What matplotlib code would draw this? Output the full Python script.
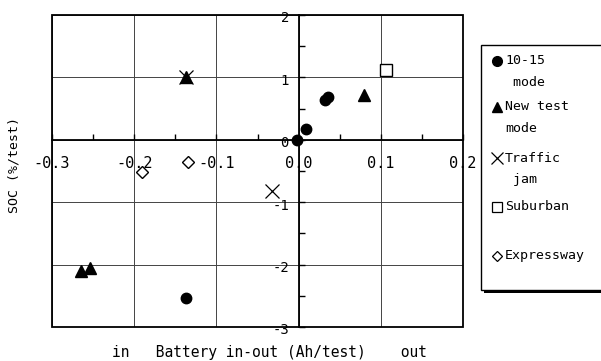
import numpy as np
import matplotlib.pyplot as plt
import matplotlib.transforms as mtransforms
from matplotlib.patches import Rectangle

plt.rcParams['font.family'] = ['DejaVu Sans Mono', 'DejaVu Sans']
plt.rcParams['axes.unicode_minus'] = False

# battery in-out (Ah/test) vs SOC change (%/test)
mode1015_x = [-0.002, 0.009, 0.032, 0.036, -0.137]
mode1015_y = [0.0, 0.17, 0.64, 0.69, -2.54]
newtest_x = [-0.137, 0.080, -0.265, -0.254]
newtest_y = [1.0, 0.72, -2.1, -2.05]
traffic_x = [-0.137, -0.032]
traffic_y = [1.0, -0.82]
suburban_x = [0.106]
suburban_y = [1.12]
express_x = [-0.134, -0.19]
express_y = [-0.35, -0.51]

xticks = [-0.3, -0.2, -0.1, 0.0, 0.1, 0.2]
xticklabels = ['-0.3', '-0.2', '-0.1', '0.0', '0.1', '0.2']
yticks = [-3, -2, -1, 0, 1, 2]
yticklabels = ['-3', '-2', '-1', '0', '1', '2']

fig = plt.figure(figsize=(6.01, 3.61), dpi=100)
ax = fig.add_axes([52/601, 1 - 327/361, 411/601, 312/361])

ax.plot(mode1015_x, mode1015_y, 'o', color='k', ms=7.5, zorder=5)
ax.plot(newtest_x, newtest_y, '^', color='k', ms=8.5, zorder=5)
ax.plot(traffic_x, traffic_y, 'x', color='k', ms=10, mew=0.9, zorder=5)
ax.plot(suburban_x, suburban_y, 's', mfc='white', mec='k', ms=9, mew=1.0, zorder=5)
ax.plot(express_x, express_y, 'D', mfc='white', mec='k', ms=6, mew=1.0, zorder=5)

ax.set_xlim(-0.3, 0.2)
ax.set_ylim(-3, 2)
ax.set_xticks(xticks)
ax.set_xticklabels(xticklabels)
ax.set_yticks(yticks)
ax.set_yticklabels(yticklabels)
ax.set_xticks(np.arange(-0.25, 0.2, 0.1), minor=True)
ax.set_yticks(np.arange(-2.5, 2.0, 1.0), minor=True)
ax.grid(True, which='major', color='#444444', lw=0.7)
ax.set_axisbelow(True)

# axes cross at the origin
ax.spines['left'].set_position(('data', 0))
ax.spines['bottom'].set_position(('data', 0))
ax.spines['top'].set_visible(False)
ax.spines['right'].set_visible(False)
for s in ('left', 'bottom'):
    ax.spines[s].set_linewidth(1.3)
ax.add_patch(Rectangle((0, 0), 1, 1, transform=ax.transAxes, fill=False,
                       lw=1.3, ec='k', zorder=4, clip_on=False))

ax.tick_params(axis='x', which='both', direction='in', length=4, width=1,
               top=False, labelsize=11, pad=12)
ax.tick_params(axis='y', which='both', direction='in', length=4, width=1,
               right=False, labelsize=10, pad=7)

# y labels sit a little below their gridlines
shift = mtransforms.ScaledTranslation(0, -2/100, fig.dpi_scale_trans)
for lab in ax.get_yticklabels():
    lab.set_transform(lab.get_transform() + shift)

fig.text(14/601, 1 - 165/361, 'SOC (%/test)', rotation=90, ha='center',
         va='center', fontsize=9.5)
fig.text(112/601, 1 - 352/361, 'in   Battery in-out (Ah/test)    out',
         ha='left', va='center', fontsize=10.5)

# legend box with drop shadow
lg = fig.add_axes([481/601, 1 - 290/361, 130/601, 245/361])
lg.set_xlim(0, 130)
lg.set_ylim(245, 0)
lg.axis('off')
lg.add_patch(Rectangle((3, 3), 130, 245, fc='k', ec='none', clip_on=False))
lg.add_patch(Rectangle((0, 0), 130, 245, fc='white', ec='k', lw=1.0,
                       clip_on=False))
entries = [
    ('o', dict(color='k', ms=7), ['10-15', ' mode'], 16),
    ('^', dict(color='k', ms=7.5), ['New test', 'mode'], 62),
    ('x', dict(color='k', ms=8, mew=0.9), ['Traffic', ' jam'], 113),
    ('s', dict(mfc='white', mec='k', ms=7.5, mew=0.9), ['Suburban'], 162),
    ('D', dict(mfc='white', mec='k', ms=5.5, mew=0.9), ['Expressway'], 211),
]
for m, kw, lines, y in entries:
    lg.plot([16], [y], m, clip_on=False, **kw)
    lg.text(24, y, lines[0], va='center', ha='left', fontsize=9.5)
    if len(lines) > 1:
        lg.text(24, y + 21, lines[1], va='center', ha='left', fontsize=9.5)

fig.savefig('out.png', dpi=100)
